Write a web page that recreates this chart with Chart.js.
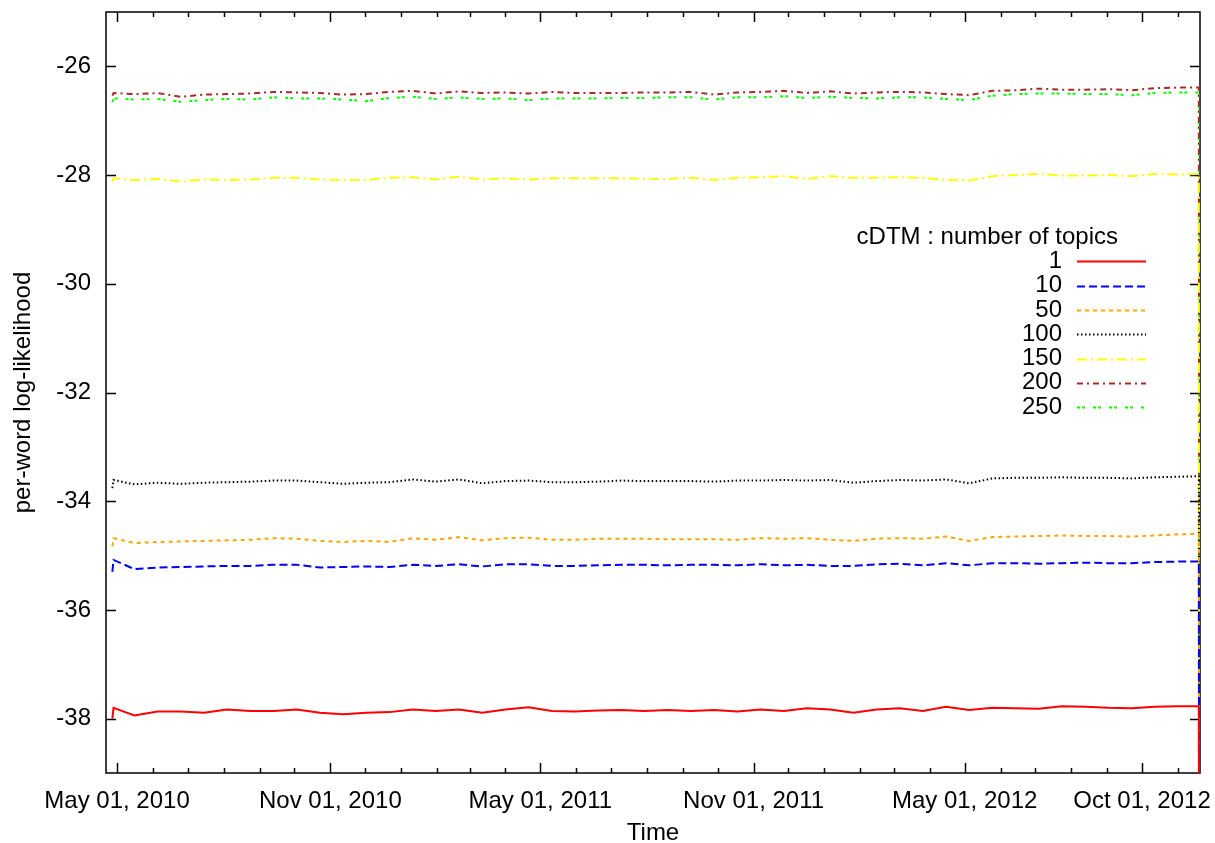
<!DOCTYPE html>
<html>
<head>
<meta charset="utf-8">
<script src="https://cdn.jsdelivr.net/npm/chart.js@4.4.1/dist/chart.umd.min.js"></script>
<style>
  html, body { margin: 0; padding: 0; background: #fff; }
  #llChart { display: block; }
</style>
</head>
<body>
<canvas id="llChart" width="1215" height="843"></canvas>
<script>
// x = days counted from May 01, 2010
const days = [-4, -3, 15, 35, 55, 75, 95, 115, 135, 155, 175, 195, 215, 235, 255, 275, 295, 315, 335, 355,
  375, 395, 415, 435, 455, 475, 495, 515, 535, 555, 575, 595, 615, 635, 655, 675, 695, 715, 735, 755,
  775, 795, 815, 835, 855, 875, 895, 915, 933, 934];

const topics1 = [-38.00, -37.80, -37.94, -37.87, -37.87, -37.89, -37.83, -37.86, -37.86, -37.83, -37.89, -37.92,
  -37.89, -37.88, -37.83, -37.86, -37.83, -37.89, -37.83, -37.79, -37.86, -37.87, -37.85, -37.84,
  -37.86, -37.84, -37.86, -37.84, -37.87, -37.83, -37.86, -37.81, -37.83, -37.89, -37.83, -37.81,
  -37.86, -37.78, -37.84, -37.80, -37.81, -37.82, -37.77, -37.78, -37.80, -37.81, -37.78, -37.77, -37.77, -60];
const topics10 = [-35.30, -35.08, -35.25, -35.22, -35.21, -35.20, -35.19, -35.19, -35.17, -35.17, -35.22, -35.21,
  -35.20, -35.21, -35.17, -35.19, -35.16, -35.20, -35.16, -35.16, -35.19, -35.19, -35.18, -35.17,
  -35.17, -35.18, -35.17, -35.17, -35.18, -35.16, -35.18, -35.17, -35.19, -35.19, -35.16, -35.15,
  -35.18, -35.14, -35.18, -35.14, -35.14, -35.15, -35.14, -35.13, -35.14, -35.14, -35.12, -35.11, -35.11, -60];
const topics50 = [-34.83, -34.68, -34.77, -34.75, -34.74, -34.73, -34.72, -34.71, -34.68, -34.69, -34.73, -34.75,
  -34.73, -34.75, -34.68, -34.71, -34.66, -34.72, -34.68, -34.67, -34.71, -34.71, -34.69, -34.69,
  -34.69, -34.70, -34.70, -34.70, -34.71, -34.68, -34.69, -34.68, -34.71, -34.73, -34.69, -34.68,
  -34.69, -34.65, -34.73, -34.66, -34.65, -34.64, -34.63, -34.64, -34.64, -34.65, -34.63, -34.61, -34.60, -60];
const topics100 = [-33.76, -33.61, -33.69, -33.66, -33.68, -33.66, -33.65, -33.64, -33.62, -33.62, -33.65, -33.68,
  -33.66, -33.65, -33.60, -33.64, -33.60, -33.67, -33.63, -33.62, -33.65, -33.65, -33.64, -33.62,
  -33.63, -33.63, -33.63, -33.64, -33.62, -33.62, -33.61, -33.62, -33.61, -33.66, -33.63, -33.61,
  -33.62, -33.60, -33.67, -33.58, -33.57, -33.57, -33.56, -33.57, -33.57, -33.58, -33.56, -33.55, -33.54, -60];
const topics150 = [-28.12, -28.06, -28.09, -28.07, -28.12, -28.08, -28.09, -28.08, -28.05, -28.05, -28.08, -28.09,
  -28.09, -28.05, -28.04, -28.08, -28.03, -28.08, -28.06, -28.08, -28.06, -28.06, -28.06, -28.06,
  -28.07, -28.07, -28.05, -28.09, -28.05, -28.04, -28.02, -28.07, -28.02, -28.05, -28.05, -28.04,
  -28.05, -28.09, -28.10, -28.02, -28.00, -27.98, -28.01, -28.01, -28.00, -28.02, -27.98, -27.99, -27.98, -60];
const topics200 = [-26.54, -26.49, -26.51, -26.49, -26.56, -26.52, -26.51, -26.50, -26.47, -26.48, -26.49, -26.52,
  -26.51, -26.47, -26.45, -26.50, -26.46, -26.49, -26.48, -26.50, -26.47, -26.49, -26.49, -26.49,
  -26.48, -26.48, -26.47, -26.52, -26.48, -26.47, -26.45, -26.49, -26.46, -26.50, -26.48, -26.47,
  -26.48, -26.51, -26.53, -26.45, -26.44, -26.41, -26.43, -26.43, -26.42, -26.44, -26.40, -26.39, -26.39, -60];
const topics250 = [-26.66, -26.59, -26.61, -26.60, -26.65, -26.62, -26.60, -26.61, -26.57, -26.59, -26.59, -26.61,
  -26.64, -26.58, -26.56, -26.60, -26.57, -26.60, -26.59, -26.62, -26.59, -26.59, -26.59, -26.58,
  -26.58, -26.57, -26.57, -26.61, -26.57, -26.57, -26.55, -26.58, -26.56, -26.58, -26.59, -26.57,
  -26.57, -26.60, -26.62, -26.54, -26.51, -26.50, -26.50, -26.51, -26.51, -26.53, -26.49, -26.48, -26.48, -60];

const seriesLabels = ['1', '10', '50', '100', '150', '200', '250'];

// major x tick positions (days from May 01, 2010) and their labels
const xTickDays = [0, 184, 365, 549, 731, 884];
const xTickLabels = ['May 01, 2010', 'Nov 01, 2010', 'May 01, 2011', 'Nov 01, 2011', 'May 01, 2012', 'Oct 01, 2012'];
const yTicks = [-38, -36, -34, -32, -30, -28, -26];

const FONT = { family: "'Liberation Sans', Arial, Helvetica, sans-serif", size: 24 };

// minor ticks: first day of every month
const minorTickDays = [];
for (let m = 0; m < 32; m++) {
  const d = (Date.UTC(2010, 4 + m, 1) - Date.UTC(2010, 4, 1)) / 86400000;
  if (d <= 934) minorTickDays.push(d);
}

function series(values) {
  return values.map((v, i) => ({ x: days[i], y: v }));
}

const styles = [
  { color: '#ff0000', dash: [] },
  { color: '#0000ff', dash: [8, 4] },
  { color: '#ffa500', dash: [4, 4] },
  { color: '#000000', dash: [1.5, 2.5] },
  { color: '#ffff00', dash: [10, 4, 2, 4] },
  { color: '#a52a2a', dash: [6, 4, 2, 4] },
  { color: '#00ff00', dash: [3, 2, 3, 8] }
];
const allValues = [topics1, topics10, topics50, topics100, topics150, topics200, topics250];

// 枠と内向きの目盛り (gnuplot風)
const frameTicks = {
  id: 'frameTicks',
  beforeDatasetsDraw(chart) {
    const { ctx, chartArea: a, scales: { x, y } } = chart;
    ctx.save();
    ctx.strokeStyle = '#000';
    ctx.lineWidth = 1.5;
    ctx.strokeRect(a.left, a.top, a.right - a.left, a.bottom - a.top);
    ctx.beginPath();
    yTicks.forEach(v => {
      const py = Math.round(y.getPixelForValue(v)) + 0.5;
      ctx.moveTo(a.left, py); ctx.lineTo(a.left + 10, py);
      ctx.moveTo(a.right, py); ctx.lineTo(a.right - 10, py);
    });
    minorTickDays.forEach(d => {
      const len = xTickDays.includes(d) ? 10 : 5;
      const px = Math.round(x.getPixelForValue(d)) + 0.5;
      ctx.moveTo(px, a.bottom); ctx.lineTo(px, a.bottom - len);
      ctx.moveTo(px, a.top); ctx.lineTo(px, a.top + len);
    });
    ctx.stroke();
    ctx.restore();
  }
};

// 凡例: ラベル右寄せ + 右側に線サンプル
const keyBox = {
  id: 'keyBox',
  afterDraw(chart) {
    const ctx = chart.ctx;
    ctx.save();
    ctx.font = FONT.size + 'px ' + FONT.family;
    ctx.fillStyle = '#000';
    ctx.textAlign = 'right';
    ctx.textBaseline = 'middle';
    const top = 237;
    ctx.fillText('cDTM : number of topics', 1118, top);
    chart.data.datasets.forEach((ds, i) => {
      const yy = top + 24.3 * (i + 1);
      ctx.fillStyle = '#000';
      ctx.fillText(ds.label, 1062, yy);
      ctx.strokeStyle = ds.borderColor;
      ctx.lineWidth = ds.borderWidth;
      ctx.setLineDash(ds.borderDash);
      ctx.beginPath();
      ctx.moveTo(1077, Math.round(yy) + 0.5);
      ctx.lineTo(1146, Math.round(yy) + 0.5);
      ctx.stroke();
    });
    ctx.restore();
  }
};

const llChart = new Chart(document.getElementById('llChart'), {
  type: 'line',
  data: {
    datasets: allValues.map((vals, i) => ({
      label: seriesLabels[i],
      data: series(vals),
      borderColor: styles[i].color,
      borderDash: styles[i].dash,
      borderWidth: 2,
      pointRadius: 0,
      fill: false,
      tension: 0
    }))
  },
  options: {
    responsive: false,
    animation: false,
    layout: { padding: { left: 0, right: 15, top: 12, bottom: 0 } },
    scales: {
      x: {
        type: 'linear',
        min: -9.5,
        max: 934,
        grid: { display: false, drawTicks: false },
        border: { display: false },
        afterBuildTicks: (scale) => { scale.ticks = xTickDays.map(v => ({ value: v })); },
        afterFit: (scale) => {
          scale.height = 70;
          scale.paddingLeft = 0;
          scale.paddingRight = 0;
        },
        ticks: {
          autoSkip: false,
          maxRotation: 0,
          padding: 14,
          color: '#000',
          font: FONT,
          callback: (value, index) => xTickLabels[index]
        },
        title: { display: true, text: 'Time', color: '#000', font: FONT, padding: { top: 0, bottom: -5 } }
      },
      y: {
        min: -39,
        max: -25,
        grid: { display: false, drawTicks: false },
        border: { display: false },
        afterBuildTicks: (scale) => { scale.ticks = yTicks.map(v => ({ value: v })); },
        afterFit: (scale) => {
          scale.width = 106;
          scale.paddingTop = 0;
          scale.paddingBottom = 0;
        },
        ticks: { padding: 15, color: '#000', font: FONT },
        title: { display: true, text: 'per-word log-likelihood', color: '#000', font: FONT, padding: { top: 9, bottom: 0 } }
      }
    },
    plugins: {
      legend: { display: false },
      tooltip: { enabled: false }
    }
  },
  plugins: [frameTicks, keyBox]
});
</script>
</body>
</html>
